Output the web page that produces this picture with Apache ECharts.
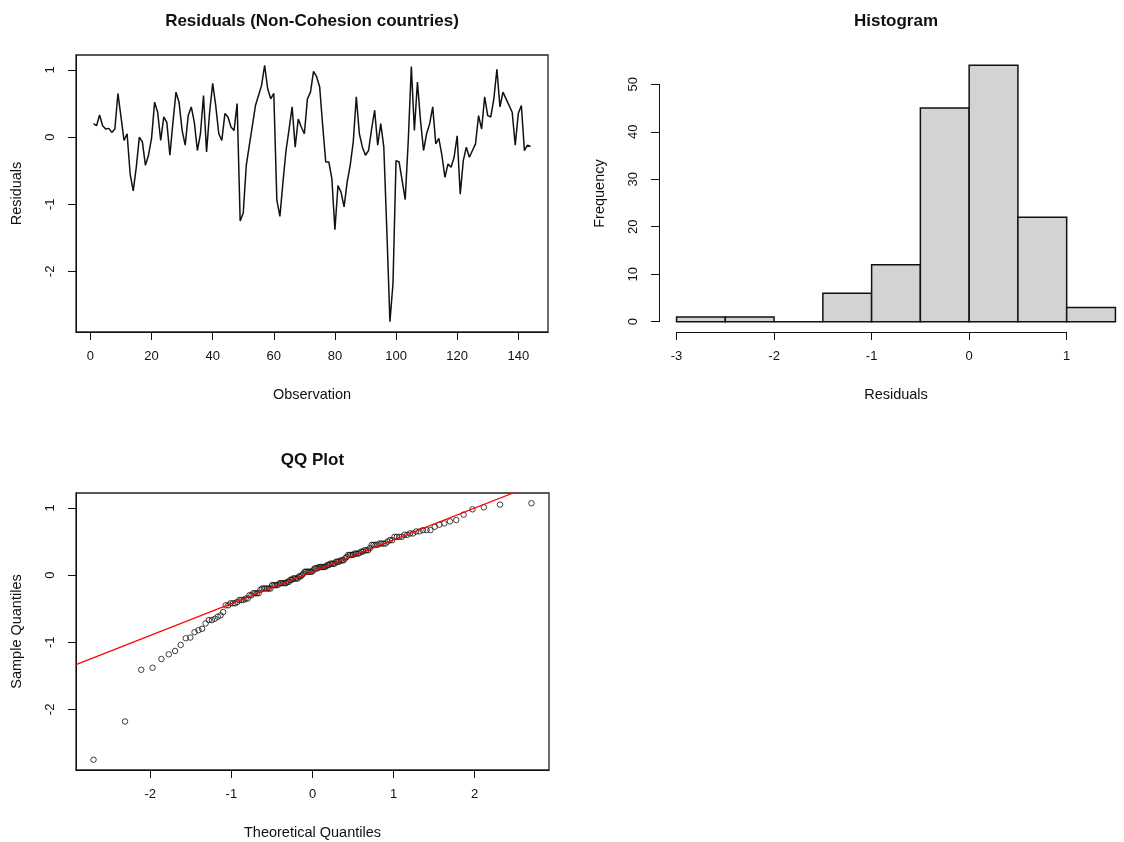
<!DOCTYPE html>
<html>
<head>
<meta charset="utf-8">
<script src="https://cdn.jsdelivr.net/npm/echarts@6/dist/echarts.min.js"></script>
<style>
html, body { margin: 0; padding: 0; background: #fff; }
#main { width: 1124px; height: 842px; }
</style>
</head>
<body>
<div id="main"></div>
<script>
// residuals, in observation order (obs 1..144)
const residuals = [
  0.20, 0.17, 0.33, 0.17, 0.12, 0.13, 0.07, 0.12, 0.65, 0.30, -0.05, 0.05,
  -0.55, -0.80, -0.45, 0.00, -0.07, -0.42, -0.27, -0.02, 0.52, 0.37, -0.05, 0.30,
  0.22, -0.27, 0.22, 0.67, 0.52, 0.10, -0.12, 0.32, 0.45, 0.22, -0.20, 0.05,
  0.62, -0.22, 0.37, 0.80, 0.47, 0.05, -0.05, 0.35, 0.30, 0.15, 0.10, 0.50,
  -1.25, -1.13, -0.42, -0.12, 0.17, 0.47, 0.62, 0.77, 1.07, 0.72, 0.57, 0.65,
  -0.94, -1.18, -0.67, -0.20, 0.12, 0.45, -0.15, 0.27, 0.15, 0.05, 0.57, 0.67,
  0.98, 0.90, 0.75, 0.17, -0.37, -0.37, -0.62, -1.38, -0.72, -0.82, -1.04, -0.67,
  -0.42, -0.07, 0.60, 0.05, -0.15, -0.27, -0.20, 0.12, 0.40, -0.12, 0.20, -0.15,
  -1.41, -2.75, -2.18, -0.35, -0.37, -0.65, -0.93, -0.05, 1.05, 0.10, 0.82, 0.25,
  -0.20, 0.05, 0.20, 0.45, -0.10, -0.02, -0.27, -0.60, -0.40, -0.45, -0.30, 0.02,
  -0.85, -0.35, -0.15, -0.30, -0.20, -0.10, 0.32, 0.12, 0.60, 0.32, 0.30, 0.57,
  1.01, 0.45, 0.67, 0.57, 0.47, 0.37, -0.12, 0.35, 0.47, -0.20, -0.12, -0.14
];
const histBreaks = [-3, -2.5, -2, -1.5, -1, -0.5, 0, 0.5, 1, 1.5];
const histCounts = [1, 1, 0, 6, 12, 45, 54, 22, 3];

const obsTicks = [0, 20, 40, 60, 80, 100, 120, 140];
const residTicks = [-2, -1, 0, 1];
const histXTicks = [-3, -2, -1, 0, 1];
const histYTicks = [0, 10, 20, 30, 40, 50];
const qqXTicks = [-2, -1, 0, 1, 2];

const FONT = '"Liberation Sans", Arial, sans-serif';
const INK = '#111';

// R style axis range: data range widened by 4% each side
function pad(lo, hi) {
  const d = (hi - lo) * 0.04;
  return [lo - d, hi + d];
}

// inverse normal cdf (Acklam)
function qnorm(p) {
  const a = [-3.969683028665376e+01, 2.209460984245205e+02, -2.759285104469687e+02, 1.383577518672690e+02, -3.066479806614716e+01, 2.506628277459239e+00];
  const b = [-5.447609879822406e+01, 1.615858368580409e+02, -1.556989798598866e+02, 6.680131188771972e+01, -1.328068155288572e+01];
  const c = [-7.784894002430293e-03, -3.223964580411365e-01, -2.400758277161838e+00, -2.549732539343734e+00, 4.374664141464968e+00, 2.938163982698783e+00];
  const d = [7.784695709041462e-03, 3.224671290700398e-01, 2.445134137142996e+00, 3.754408661907416e+00];
  const pl = 0.02425;
  let q, r;
  if (p < pl) {
    q = Math.sqrt(-2 * Math.log(p));
    return (((((c[0]*q+c[1])*q+c[2])*q+c[3])*q+c[4])*q+c[5]) / ((((d[0]*q+d[1])*q+d[2])*q+d[3])*q+1);
  }
  if (p > 1 - pl) {
    q = Math.sqrt(-2 * Math.log(1 - p));
    return -(((((c[0]*q+c[1])*q+c[2])*q+c[3])*q+c[4])*q+c[5]) / ((((d[0]*q+d[1])*q+d[2])*q+d[3])*q+1);
  }
  q = p - 0.5; r = q * q;
  return (((((a[0]*r+a[1])*r+a[2])*r+a[3])*r+a[4])*r+a[5])*q / (((((b[0]*r+b[1])*r+b[2])*r+b[3])*r+b[4])*r+1);
}

// quantile type 7 (R default)
function quantile(sorted, p) {
  const h = (sorted.length - 1) * p;
  const lo = Math.floor(h);
  const hi = Math.min(lo + 1, sorted.length - 1);
  return sorted[lo] + (h - lo) * (sorted[hi] - sorted[lo]);
}

const n = residuals.length;
const sorted = residuals.slice().sort((a, b) => a - b);
const theo = sorted.map((v, i) => qnorm((i + 1 - 0.5) / n));
const qqPoints = sorted.map((v, i) => [theo[i], v]);
const q1 = quantile(sorted, 0.25), q3 = quantile(sorted, 0.75);
const slope = (q3 - q1) / (qnorm(0.75) - qnorm(0.25));
const intercept = q1 - slope * qnorm(0.25);

const residRange = pad(sorted[0], sorted[n - 1]);
const obsRange = pad(1, n);
const histXRange = pad(histBreaks[0], histBreaks[histBreaks.length - 1]);
const histYRange = pad(0, Math.max.apply(null, histCounts));
const qqXRange = pad(theo[0], theo[n - 1]);

// panel geometry
const P1 = { left: 76, top: 55, width: 472, height: 277 };
const P2 = { left: 659, top: 55, width: 474, height: 277 };
const P3 = { left: 76, top: 493, width: 473, height: 277 };

// histogram axes only span the tick range (R draws them that way)
function px(v, range, start, size) {
  return start + (v - range[0]) / (range[1] - range[0]) * size;
}
const hxL = px(histXTicks[0], histXRange, P2.left, P2.width);
const hxR = px(histXTicks[histXTicks.length - 1], histXRange, P2.left, P2.width);
const hyB = P2.top + P2.height - (histYTicks[0] - histYRange[0]) / (histYRange[1] - histYRange[0]) * P2.height;
const hyT = P2.top + P2.height - (histYTicks[histYTicks.length - 1] - histYRange[0]) / (histYRange[1] - histYRange[0]) * P2.height;

const tickStyle = { show: true, inside: false, length: 8, lineStyle: { color: INK, width: 1 } };
const lineStyle = { show: true, onZero: false, lineStyle: { color: INK, width: 1 } };
const labelBase = { color: INK, fontSize: 13, fontFamily: FONT };
const nameStyle = { color: INK, fontSize: 14.5, fontFamily: FONT };

function xAx(grid, range, ticks, name) {
  return {
    type: 'value', gridIndex: grid, min: range[0], max: range[1],
    axisLine: lineStyle,
    axisTick: Object.assign({ customValues: ticks }, tickStyle),
    axisLabel: Object.assign({ customValues: ticks, margin: 18 }, labelBase),
    splitLine: { show: false },
    name: name, nameLocation: 'middle', nameGap: 55, nameTextStyle: nameStyle
  };
}
function yAx(grid, range, ticks, name) {
  return {
    type: 'value', gridIndex: grid, min: range[0], max: range[1],
    axisLine: lineStyle,
    axisTick: Object.assign({ customValues: ticks }, tickStyle),
    axisLabel: Object.assign({ customValues: ticks, margin: 19, rotate: 90 }, labelBase),
    splitLine: { show: false },
    name: name, nameLocation: 'middle', nameGap: 52, nameTextStyle: nameStyle
  };
}
function nameOnly(grid, range, name, isY) {
  return {
    type: 'value', gridIndex: grid, min: range[0], max: range[1],
    axisLine: { show: false }, axisTick: { show: false }, axisLabel: { show: false },
    splitLine: { show: false },
    name: name, nameLocation: 'middle', nameGap: isY ? 52 : 55, nameTextStyle: nameStyle
  };
}
function hidden(grid) {
  return { type: 'value', gridIndex: grid, show: false, min: 0, max: 1 };
}

const boxStyle = { show: true, borderColor: '#222', borderWidth: 1.3, backgroundColor: 'transparent' };
const free = { outerBoundsMode: 'none', containLabel: false };

const chart = echarts.init(document.getElementById('main'));
const option = {
  animation: false,
  backgroundColor: '#fff',
  grid: [
    Object.assign({}, P1, boxStyle, free),
    Object.assign({}, P2, free),
    Object.assign({ left: hxL, width: hxR - hxL, top: P2.top, height: P2.height }, free),
    Object.assign({ left: P2.left, width: P2.width, top: hyT, height: hyB - hyT }, free),
    Object.assign({}, P3, boxStyle, free)
  ],
  xAxis: [
    xAx(0, obsRange, obsTicks, 'Observation'),
    nameOnly(1, histXRange, 'Residuals', false),
    Object.assign(xAx(2, [histXTicks[0], histXTicks[histXTicks.length - 1]], histXTicks, ''), { name: '' }),
    hidden(3),
    xAx(4, qqXRange, qqXTicks, 'Theoretical Quantiles')
  ],
  yAxis: [
    yAx(0, residRange, residTicks, 'Residuals'),
    nameOnly(1, histYRange, 'Frequency', true),
    hidden(2),
    Object.assign(yAx(3, [histYTicks[0], histYTicks[histYTicks.length - 1]], histYTicks, ''), { name: '' }),
    yAx(4, residRange, residTicks, 'Sample Quantiles')
  ],
  graphic: [
    { type: 'text', x: P1.left + P1.width / 2, y: 21, style: { text: 'Residuals (Non-Cohesion countries)', fill: INK, font: 'bold 17px ' + FONT, align: 'center', verticalAlign: 'middle' } },
    { type: 'text', x: P2.left + P2.width / 2, y: 21, style: { text: 'Histogram', fill: INK, font: 'bold 17px ' + FONT, align: 'center', verticalAlign: 'middle' } },
    { type: 'text', x: P3.left + P3.width / 2, y: 460, style: { text: 'QQ Plot', fill: INK, font: 'bold 17px ' + FONT, align: 'center', verticalAlign: 'middle' } }
  ],
  series: [
    {
      type: 'line', xAxisIndex: 0, yAxisIndex: 0,
      data: residuals.map((v, i) => [i + 1, v]),
      showSymbol: false, symbol: 'none',
      lineStyle: { color: INK, width: 1.5 }
    },
    {
      type: 'custom', xAxisIndex: 1, yAxisIndex: 1,
      data: histCounts.map((c, i) => [histBreaks[i], histBreaks[i + 1], c]),
      encode: { x: [0, 1], y: 2 },
      renderItem: function (params, api) {
        const p0 = api.coord([api.value(0), api.value(2)]);
        const p1 = api.coord([api.value(1), 0]);
        return {
          type: 'rect',
          shape: { x: p0[0], y: p0[1], width: p1[0] - p0[0], height: p1[1] - p0[1] },
          style: { fill: '#d3d3d3', stroke: INK, lineWidth: 1.5 }
        };
      }
    },
    {
      type: 'scatter', xAxisIndex: 4, yAxisIndex: 4,
      data: qqPoints,
      symbol: 'circle', symbolSize: 5.5,
      itemStyle: { color: 'rgba(0,0,0,0)', borderColor: INK, borderWidth: 1 }
    },
    {
      type: 'line', xAxisIndex: 4, yAxisIndex: 4,
      data: qqXRange.map(x => [x, intercept + slope * x]),
      showSymbol: false, symbol: 'none', clip: true,
      lineStyle: { color: '#ff0000', width: 1.2 }
    }
  ]
};
chart.setOption(option);
</script>
</body>
</html>
